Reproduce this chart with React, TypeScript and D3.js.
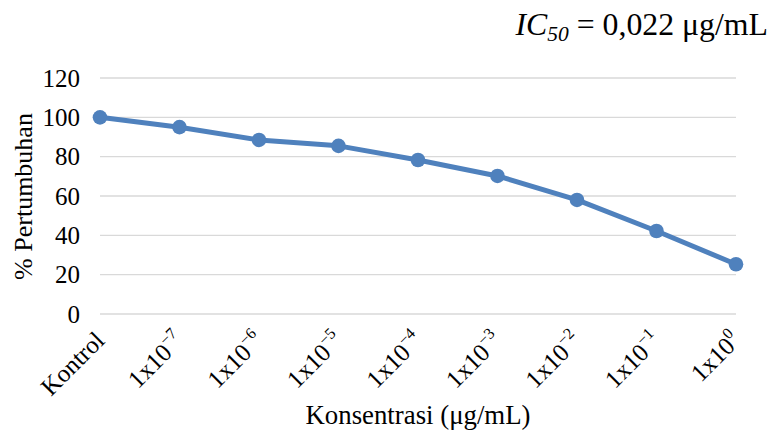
import React from "react";
import * as d3 from "d3";

const categories = ["Kontrol", "1e-7", "1e-6", "1e-5", "1e-4", "1e-3", "1e-2", "1e-1", "1e0"];
const tickBase = ["Kontrol", "1x10", "1x10", "1x10", "1x10", "1x10", "1x10", "1x10", "1x10"];
const tickExp = ["", "−7", "−6", "−5", "−4", "−3", "−2", "−1", "0"];
const growth = [100, 95, 88.5, 85.5, 78.3, 70.2, 58, 42.2, 25.3];
const yTicks = [0, 20, 40, 60, 80, 100, 120];

const W = 772;
const H = 441;
const left = 100;
const right = 736;
const top = 78;
const bottom = 314;
const font = "'Liberation Serif', 'Times New Roman', serif";
const color = "#4F81BD";

export default function App() {
  const x = d3.scalePoint<string>().domain(categories).range([left, right]).padding(0);
  const y = d3.scaleLinear().domain([0, 120]).range([bottom, top]);
  const line = d3
    .line<number>()
    .x((_, i) => x(categories[i]) as number)
    .y((d) => y(d));

  return (
    <svg width={W} height={H} style={{ position: "absolute", left: 0, top: 0, background: "#fff" }}>
      {yTicks.map((t) => (
        <g key={t}>
          <line x1={left} x2={right} y1={y(t)} y2={y(t)} stroke="#d9d9d9" strokeWidth={1.3} />
          <text x={80} y={y(t)} dy="0.34em" textAnchor="end" fontFamily={font} fontSize={25} fill="#000">
            {t}
          </text>
        </g>
      ))}
      <path d={line(growth) || ""} fill="none" stroke={color} strokeWidth={5} strokeLinejoin="round" />
      {growth.map((v, i) => (
        <circle key={i} cx={x(categories[i]) as number} cy={y(v)} r={7.3} fill={color} />
      ))}
      {categories.map((c, i) => {
        const cx = x(c) as number;
        return (
          <text
            key={c}
            transform={`translate(${cx + 6},${342}) rotate(-45)`}
            textAnchor="end"
            fontFamily={font}
            fontSize={25}
            fill="#000"
          >
            {tickBase[i]}
            {tickExp[i] && (
              <tspan dy="-11" fontSize={16}>
                {tickExp[i]}
              </tspan>
            )}
          </text>
        );
      })}
      <text
        transform={`translate(32,196.5) rotate(-90)`}
        textAnchor="middle"
        fontFamily={font}
        fontSize={26}
        fill="#000"
      >
        % Pertumbuhan
      </text>
      <text x={(left + right) / 2} y={424} textAnchor="middle" fontFamily={font} fontSize={26.8} fill="#000">
        Konsentrasi (μg/mL)
      </text>
      <text x={768} y={35} textAnchor="end" fontFamily={font} fontSize={31.8} fill="#000">
        <tspan fontStyle="italic">IC</tspan>
        <tspan fontStyle="italic" fontSize={21.5} dy="6">50</tspan>
        <tspan dy="-6"> = 0,022 μg/mL</tspan>
      </text>
    </svg>
  );
}
